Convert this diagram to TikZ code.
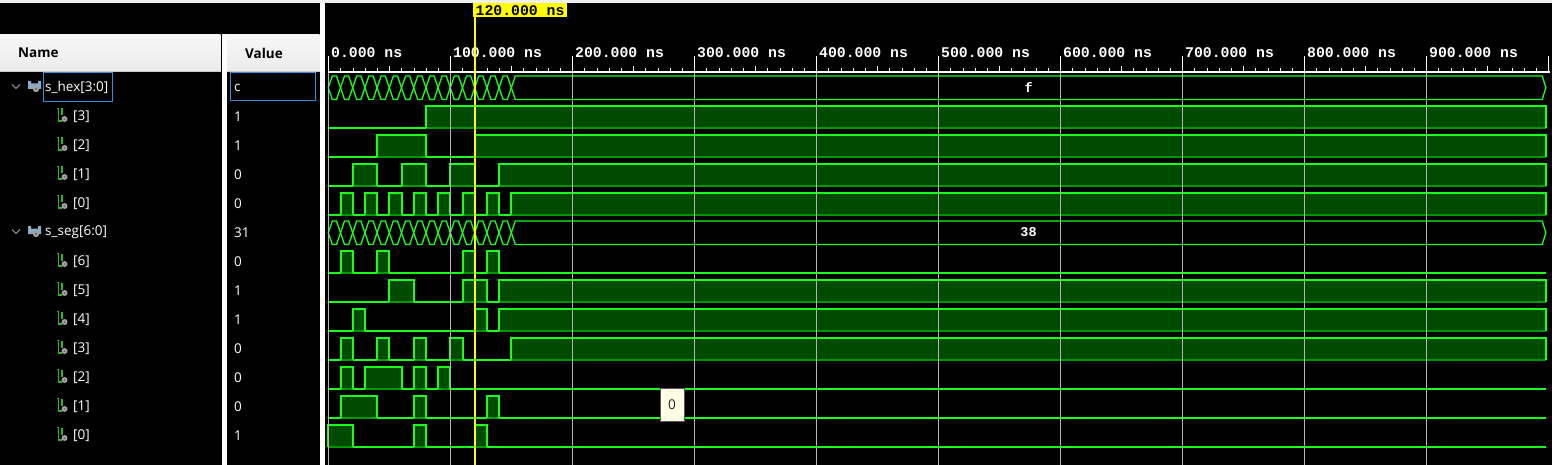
\documentclass[tikz,border=0pt]{standalone}
\usepackage{fontspec}
\usepackage{xcolor}
\usepackage{tikz}
\newfontfamily\uifont{Open Sans}
\newfontfamily\rulerfont{Liberation Mono}
\definecolor{wave}{HTML}{1AFF1A}
\definecolor{wavefill}{HTML}{004B00}
\definecolor{waveedge}{HTML}{009600}
\definecolor{gridline}{HTML}{B4B4B4}
\definecolor{cursor}{HTML}{FFFF00}
\definecolor{selbox}{HTML}{3C8CDC}
\definecolor{iconbus}{HTML}{8CAAC8}
\definecolor{iconbit}{HTML}{2CB42C}
\definecolor{icongrey}{HTML}{A0A0A0}
\definecolor{tipfill}{HTML}{FFFFE6}

% one bit: #1 row centre, #2 high spans (ns), #3 width of low line
\newcommand\bitwave[3]{%
  \draw[wave, line width=#3] (0,#1+11.5) -- (998,#1+11.5);
  \foreach \a/\b in {#2} {
    \fill[wavefill] (\a,#1-10.5) rectangle (\b,#1+11.5);
    \draw[waveedge, line width=1.3pt] (\a,#1+11.5) -- (\b,#1+11.5);
    \draw[wave, line width=2pt] (\a,#1+11.5) -- (\a,#1-10.5) -- (\b,#1-10.5) -- (\b,#1+11.5);
  }
}
% a bus: #1 row centre, #2 node name, #3 last value
\newcommand\buswave[3]{%
  \foreach \t in {0,10,...,140} {
    \draw[wave, line width=1.3pt] (\t,#1+0.25) -- (\t+3.3,#1-11.5) -- (\t+6.7,#1-11.5) -- (\t+10,#1+0.25)
      -- (\t+6.7,#1+12) -- (\t+3.3,#1+12) -- cycle;
  }
  \draw[wave, line width=1.3pt] (150,#1+0.25) -- (153.3,#1-11.5) -- (995,#1-11.5) -- (998,#1+0.25)
    -- (995,#1+12) -- (153.3,#1+12) -- cycle;
  \node[buslabel] (#2) at (574,#1) {#3};
}

\begin{document}
\begin{tikzpicture}[x=1pt, y=-1pt,
  font=\uifont\fontsize{13.5}{16}\selectfont,
  namelabel/.style={anchor=west, inner sep=0pt, text=white},
  headlabel/.style={anchor=west, inner sep=0pt, text=black, font=\uifont\bfseries\fontsize{13.5}{16}\selectfont},
  rulerlabel/.style={anchor=base west, inner sep=0pt, text=white, font=\rulerfont\bfseries\fontsize{14.8}{16}\selectfont},
  buslabel/.style={inner sep=0pt, text=white, font=\rulerfont\bfseries\fontsize{13.5}{15}\selectfont},
  cursorlabel/.style={anchor=north west, fill=cursor, inner xsep=2.5pt, inner ysep=0pt,
    minimum height=14.6pt, text=black, font=\rulerfont\bfseries\fontsize{14.8}{16}\selectfont},
  tooltip/.style={draw=black!65, fill=tipfill, minimum width=24pt, minimum height=33pt,
    inner sep=0pt, text=black!85}]
\useasboundingbox (0,0) rectangle (1552,465);
% panels
\fill[black] (0,0) rectangle (1552,465);
\fill[black!6] (0,0) rectangle (1552,2.7);
\shade[top color=black!3, bottom color=black!8] (0,34.5) rectangle (220.5,72);
\shade[top color=black!3, bottom color=black!8] (227,34.5) rectangle (319.5,72);
\draw[black!22] (0,71.5) -- (220.5,71.5) (227,71.5) -- (319.5,71.5);
\fill[white] (221.5,34.5) rectangle (226.5,465);
\fill[white] (320,2.7) rectangle (325,465);
\node[headlabel] (namehead) at (18,53) {Name};
\node[headlabel] (valuehead) at (245,53) {Value};

% bus rows
\foreach \c/\nm/\val/\n in {87.5/s\_hex[3:0]/c/hex, 232.5/s\_seg[6:0]/31/seg} {
  \draw[icongrey, line width=0.9pt] (12,\c-3) -- (16,\c+1) -- (20,\c-3);
  \fill[iconbus] (28,\c-6.5) -- (31,\c-6.5) -- (31,\c-4) -- (38,\c-4) -- (38,\c-6.5)
    -- (41,\c-6.5) -- (41,\c+1.5) -- (28,\c+1.5) -- cycle;
  \fill[icongrey] (36,\c+1.5) circle (3.2);
  \fill[black!60] (36,\c+1.5) circle (1.1);
  \node[namelabel] (name\n) at (45,\c) {\nm};
  \node[namelabel] (val\n) at (234,\c) {\val};
}
\draw[selbox] (43.5,72.5) rectangle (112,101);
\draw[selbox] (230.5,72.5) rectangle (315.5,100.5);

% bit rows
\foreach \i/\bit/\val in {1/3/1, 2/2/1, 3/1/0, 4/0/0, 6/6/0, 7/5/1, 8/4/1, 9/3/0, 10/2/0, 11/1/0, 12/0/1} {
  \pgfmathsetmacro\c{87.5+29*\i}
  \draw[iconbit, line width=1.1pt] (57,\c-8) -- (58.5,\c-8) -- (58.5,\c+4.5) -- (61.5,\c+4.5);
  \draw[iconbit, line width=1.1pt] (62,\c-8) -- (62,\c-1);
  \fill[icongrey] (64.5,\c+2.5) circle (3);
  \fill[black!60] (64.5,\c+2.5) circle (1);
  \node[namelabel] (bitname\i) at (73,\c) {[\bit]};
  \node[namelabel] (bitval\i) at (234,\c) {\val};
}

% time axis and waves
\begin{scope}[xshift=328.3pt, x=1.22pt]
\draw[white, line width=1.4pt] (0,72) -- (1001,72);
\foreach \t in {0,10,...,990} \draw[white] (\t,72) -- (\t,68.5);
\foreach \t in {50,150,...,950} \draw[white] (\t,72) -- (\t,66.5);
\foreach \t in {0,100,...,1000} \draw[white] (\t,72) -- (\t,56.5);
\node[rulerlabel] (tick0) at (2.2,58) {0.000 ns};
\foreach \t in {100,200,...,900} \node[rulerlabel] (tick\t) at (\t+2.2,58) {\t.000 ns};

\buswave{87.5}{hexf}{f}
\bitwave{116.5}{80/998}{1.4pt}
\bitwave{145.5}{40/80, 120/998}{1.4pt}
\bitwave{174.5}{20/40, 60/80, 100/120, 140/998}{1.4pt}
\bitwave{203.5}{10/20, 30/40, 50/60, 70/80, 90/100, 110/120, 130/140, 150/998}{1.4pt}
\buswave{232.5}{seg38}{38}
\bitwave{261.5}{10/20, 40/50, 110/120, 130/140}{2.4pt}
\bitwave{290.5}{50/70, 110/130, 140/998}{1.4pt}
\bitwave{319.5}{20/30, 120/130, 140/998}{1.4pt}
\bitwave{348.5}{10/20, 40/50, 70/80, 100/110, 150/998}{1.4pt}
\bitwave{377.5}{10/20, 30/60, 70/80, 90/100}{1.4pt}
\bitwave{406.5}{10/40, 70/80, 130/140}{1.4pt}
\bitwave{435.5}{0/20, 70/80, 120/130}{1.4pt}

\foreach \t in {0,100,...,900} \draw[gridline] (\t,72.7) -- (\t,465);

% cursor
\draw[cursor, line width=2pt] (120,2.7) -- (120,465);
\node[cursorlabel] (cursortime) at (118.6,2.7) {120.000 ns};
\end{scope}

\node[tooltip] (tip) at (672,404.5) {0};
\end{tikzpicture}
\end{document}
